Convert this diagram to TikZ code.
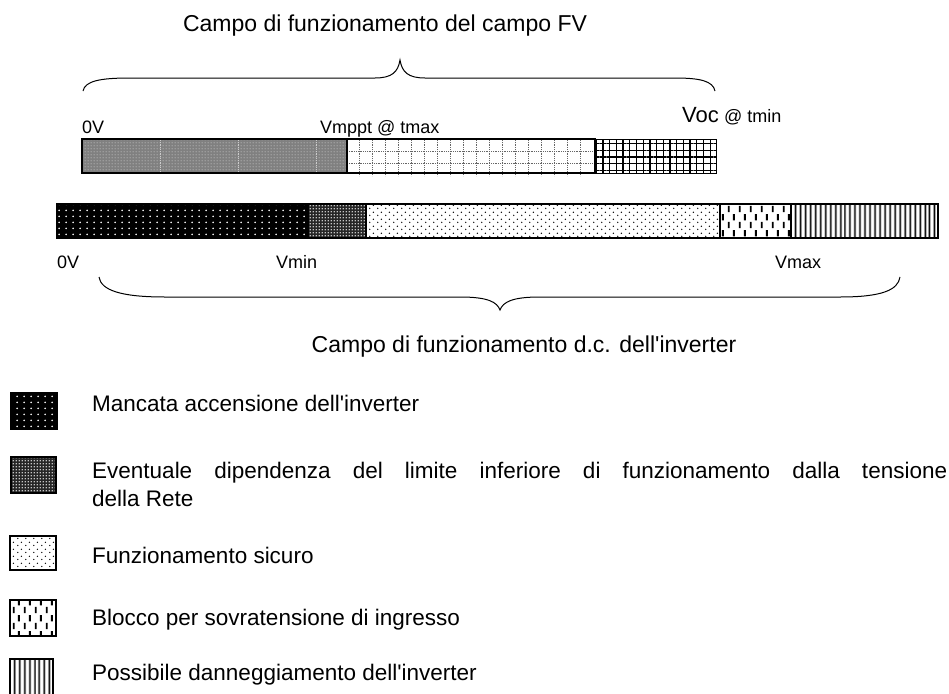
\documentclass[tikz,border=0pt]{standalone}
\usepackage{fontspec}
\setmainfont{Liberation Sans}
\usetikzlibrary{patterns.meta}

\pgfdeclarepattern{
  name=wdots, type=uncolored,
  bottom left={\pgfpoint{0pt}{0pt}}, top right={\pgfpoint{7pt}{6pt}},
  tile size={\pgfpoint{7pt}{6pt}},
  code={\pgfpathcircle{\pgfpoint{3.5pt}{3pt}}{1.05pt}\pgfusepath{fill}}
}
\pgfdeclarepattern{
  name=sdots, type=uncolored,
  bottom left={\pgfpoint{0pt}{0pt}}, top right={\pgfpoint{8pt}{7pt}},
  tile size={\pgfpoint{8pt}{7pt}},
  code={\pgfpathcircle{\pgfpoint{2pt}{1.75pt}}{0.8pt}\pgfpathcircle{\pgfpoint{6pt}{5.25pt}}{0.8pt}\pgfusepath{fill}}
}
\pgfdeclarepattern{
  name=chk, type=uncolored,
  bottom left={\pgfpoint{0pt}{0pt}}, top right={\pgfpoint{3pt}{3pt}},
  tile size={\pgfpoint{3pt}{3pt}},
  code={\pgfpathcircle{\pgfpoint{1.5pt}{1.5pt}}{0.95pt}\pgfusepath{fill}}
}
\pgfdeclarepattern{
  name=blk, type=uncolored,
  bottom left={\pgfpoint{0pt}{0pt}}, top right={\pgfpoint{11pt}{16pt}},
  tile size={\pgfpoint{11pt}{16pt}},
  code={\pgfpathrectangle{\pgfpoint{2pt}{1pt}}{\pgfpoint{2pt}{6.5pt}}
        \pgfpathrectangle{\pgfpoint{7.5pt}{9pt}}{\pgfpoint{2pt}{6.5pt}}\pgfusepath{fill}}
}

\tikzset{
  lbl/.style={font=\fontsize{18}{21}\selectfont, inner sep=0pt, anchor=base west},
  ttl/.style={font=\fontsize{23}{27}\selectfont, inner sep=0pt, anchor=base},
  leg/.style={font=\fontsize{22.5}{28}\selectfont, inner sep=0pt, anchor=base west},
  barline/.style={draw=black, line width=2pt},
  brace/.style={draw=black, line width=1pt},
  pgray/.style={fill=black!50, postaction={pattern=chk, pattern color=white!65!black}},
  pblackdots/.style={fill=black, postaction={pattern=wdots, pattern color=white}},
  pchecker/.style={fill=black!85, postaction={pattern=chk, pattern color=white}},
  psparse/.style={fill=white, postaction={pattern=sdots, pattern color=black}},
  pblock/.style={fill=white, postaction={pattern=blk, pattern color=black}},
  pvlines/.style={fill=white, postaction={pattern={Lines[angle=90,distance=5.4pt,line width=2pt]}, pattern color=black}},
  pfinegrid/.style={fill=white, postaction={pattern={Hatch[angle=0,distance=6.7pt,line width=1.3pt]}, pattern color=black}},
  gridln/.style={draw=black!60, line width=0.8pt, densely dotted},
}

\begin{document}
\begin{tikzpicture}[x=1pt,y=-1pt]
\useasboundingbox (0,0) rectangle (949,693);

% ---------- title top ----------
\node[ttl] (t1) at (385,32) {Campo di funzionamento del campo FV};
\draw[brace] (83,91) .. controls (85,81) and (100,78) .. (130,78) -- (375,78)
  .. controls (392,78) and (398,72) .. (400,60)
  .. controls (402,72) and (408,78) .. (425,78) -- (675,78)
  .. controls (700,78) and (713,81) .. (715,91);

% ---------- top labels ----------
\node[lbl] (zv1) at (82,133) {0V};
\node[lbl] (vmppt) at (320,133) {Vmppt @ tmax};
\node[lbl, font=\fontsize{22}{26}\selectfont] (voc) at (682,122) {Voc};
\node[lbl, font=\fontsize{18}{21}\selectfont] (tmin) at (724,122) {@ tmin};

% ---------- top bar ----------
\path[pgray] (82,139) rectangle (347,173);
\foreach \x in {160,238,316} \draw[white!80!black, line width=0.8pt, densely dotted] (\x,140) -- (\x,172);
\path[fill=white] (347,139) rectangle (595,173);
\foreach \x in {359,372,385,398,411,424,437,450,463,476,489,502,515,528,541,554,567,580}
  \draw[gridln] (\x,140) -- (\x,176);
\draw[gridln] (347,151) -- (595,151);
\draw[gridln] (347,163) -- (595,163);
\path[pfinegrid] (595,139) rectangle (716,173);
\draw[barline] (82,139) rectangle (347,173);
\draw[barline] (347,139) rectangle (595,173);
\draw[barline, line width=1pt] (595,139) rectangle (716,173);

% ---------- bottom bar ----------
\path[pblackdots] (57,204) rectangle (308,238);
\path[pchecker] (308,204) rectangle (366,238);
\path[psparse] (366,204) rectangle (720,238);
\path[pblock] (720,204) rectangle (791,238);
\path[pvlines] (791,204) rectangle (938,238);
\draw[barline] (57,204) rectangle (938,238);
\foreach \x in {308,366,720,791} \draw[barline] (\x,204) -- (\x,238);

% ---------- bottom labels ----------
\node[lbl] (zv2) at (57,268) {0V};
\node[lbl] (vmin) at (276,268) {Vmin};
\node[lbl] (vmax) at (775,268) {Vmax};

\draw[brace] (99,277) .. controls (101,290) and (120,297) .. (165,297) -- (460,297)
  .. controls (488,297) and (497,302) .. (500,310)
  .. controls (503,302) and (512,297) .. (540,297) -- (840,297)
  .. controls (882,297) and (898,290) .. (900,277);
\node[ttl] (t2) at (524,352) {Campo di funzionamento d.c. dell\textquotesingle inverter};

% ---------- legend ----------
\path[pblackdots] (11,393) rectangle (57,429);
\draw[barline] (11,393) rectangle (57,429);
\node[leg] (l1) at (92,411) {Mancata accensione dell\textquotesingle inverter};

\path[pchecker] (11,457) rectangle (56,493);
\draw[barline] (11,457) rectangle (56,493);
\node[leg] (l2) at (92,478) {\makebox[855pt][s]{Eventuale dipendenza del limite inferiore di funzionamento dalla tensione}};
\node[leg] (l2b) at (92,506) {della Rete};

\path[psparse] (10,536) rectangle (56,570);
\draw[barline] (10,536) rectangle (56,570);
\node[leg] (l3) at (92,563) {Funzionamento sicuro};

\path[pblock] (10,600) rectangle (56,636);
\draw[barline] (10,600) rectangle (56,636);
\node[leg] (l4) at (92,625) {Blocco per sovratensione di ingresso};

\path[pvlines] (10,659) rectangle (53,700);
\draw[barline] (10,659) rectangle (53,700);
\node[leg] (l5) at (92,680) {Possibile danneggiamento dell\textquotesingle inverter};
\end{tikzpicture}
\end{document}
